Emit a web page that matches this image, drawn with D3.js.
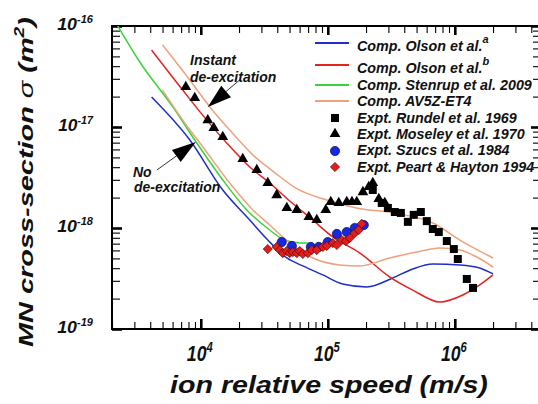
<!DOCTYPE html>
<html>
<head>
<meta charset="utf-8">
<script src="https://cdn.jsdelivr.net/npm/d3@7"></script>
<style>
  html, body { margin: 0; padding: 0; background: #fff; }
  svg { display: block; }
  text { font-family: "Liberation Sans", Arial, sans-serif; font-weight: bold; font-style: italic; fill: #111; }
</style>
</head>
<body>
<svg id="chart" width="538" height="404"></svg>
<script>
// ---- Axis ranges (ion relative speed in m/s, cross-section in m^2) ----
const speedDomain = [2e3, 4.6e6];
const sigmaDomain = [1e-19, 1e-16];
const xMajorExponents = [4, 5, 6];
const yMajorExponents = [-16, -17, -18, -19];

// ---- Computed cross-sections ----
const olsonA_speed = [4.1e3, 8.2e3, 1.49e4, 2.43e4, 3.37e4, 4.76e4, 6.36e4, 9.14e4, 1.31e5, 2.03e5, 3.25e5, 4.67e5, 6.71e5, 1.1e6, 1.57e6, 2.0e6];
const olsonA_sigma = [1.98e-17, 7.43e-18, 2.38e-18, 1.20e-18, 7.60e-19, 5.05e-19, 4.21e-19, 3.43e-19, 2.79e-19, 2.61e-19, 3.20e-19, 3.93e-19, 4.40e-19, 4.31e-19, 4.02e-19, 3.51e-19];

const olsonB_speed = [4.1e3, 7.21e3, 1.115e4, 1.6e4, 2.43e4, 3.49e4, 5.02e4, 7.62e4, 1.095e5, 1.79e5, 3.08e5, 4.67e5, 7.62e5, 1.156e6, 1.57e6, 2.0e6];
const olsonB_sigma = [5.78e-17, 2.32e-17, 1.17e-17, 6.95e-18, 4.02e-18, 2.79e-18, 1.85e-18, 1.20e-18, 8.15e-19, 5.65e-19, 3.27e-19, 2.43e-19, 1.85e-19, 2.17e-19, 2.73e-19, 3.43e-19];

const stenrup_speed = [2.2e3, 3.31e3, 6.02e3, 9.3e3, 1.49e4, 2.3e4, 3.49e4, 4.58e4, 6.02e4, 6.96e4];
const stenrup_sigma = [1.02e-16, 4.40e-17, 1.58e-17, 6.95e-18, 2.99e-18, 1.51e-18, 9.55e-19, 7.60e-19, 7.10e-19, 7.10e-19];

// AV5Z-ET4, no de-excitation
const av5zNo_speed = [5.0e3, 7.21e3, 1.04e4, 1.69e4, 2.57e4, 3.49e4, 5.02e4, 7.62e4, 1.243e5, 1.79e5, 3.08e5, 5.02e5, 7.62e5, 1.095e6, 1.49e6, 2.0e6];
const av5zNo_sigma = [2.32e-17, 1.17e-17, 6.34e-18, 2.79e-18, 1.51e-18, 1.07e-18, 7.10e-19, 5.05e-19, 4.31e-19, 4.21e-19, 5.05e-19, 5.78e-19, 6.34e-19, 6.05e-19, 5.16e-19, 4.11e-19];

// AV5Z-ET4, instant de-excitation
const av5zInst_speed = [5.0e3, 8.19e3, 1.18e4, 1.79e4, 2.63e4, 3.75e4, 5.7e4, 9.8e4, 1.68e5, 3.69e5, 6.71e5, 1.095e6, 2.0e6];
const av5zInst_sigma = [6.48e-17, 2.92e-17, 1.58e-17, 8.60e-18, 5.15e-18, 3.60e-18, 2.45e-18, 1.89e-18, 1.58e-18, 1.38e-18, 1.12e-18, 7.60e-19, 5.05e-19];

// ---- Measurements ----
const rundel_speed = [2.26e5, 2.66e5, 2.97e5, 3.37e5, 3.76e5, 4.27e5, 4.75e5, 5.40e5, 6.02e5, 6.71e5, 7.48e5, 8.65e5, 9.82e5, 1.056e6, 1.243e6, 1.39e6];
const rundel_sigma = [2.38e-18, 1.77e-18, 1.58e-18, 1.44e-18, 1.41e-18, 1.15e-18, 1.35e-18, 1.44e-18, 1.17e-18, 9.77e-19, 9.12e-19, 7.43e-19, 6.19e-19, 4.93e-19, 3.13e-19, 2.55e-19];

const moseley_speed = [7.62e3, 8.97e3, 1.135e4, 1.265e4, 1.49e4, 2.14e4, 2.76e4, 3.37e4, 3.96e4, 4.76e4, 5.70e4, 7.09e4, 8.19e4, 9.64e4, 1.056e5, 1.22e5, 1.41e5, 1.55e5, 1.69e5, 1.89e5, 2.10e5, 2.26e5, 2.52e5, 2.81e5];
const moseley_sigma = [2.49e-17, 1.94e-17, 1.17e-17, 9.77e-18, 7.96e-18, 4.82e-18, 3.75e-18, 2.79e-18, 2.12e-18, 1.58e-18, 1.51e-18, 1.29e-18, 1.20e-18, 1.51e-18, 1.81e-18, 1.77e-18, 1.81e-18, 1.81e-18, 1.81e-18, 2.27e-18, 2.55e-18, 2.79e-18, 1.94e-18, 1.77e-18];

const szucs_speed = [4.34e4, 5.21e4, 7.35e4, 8.49e4, 1.0e5, 1.178e5, 1.41e5, 1.63e5, 1.92e5];
const szucs_sigma = [7.26e-19, 6.64e-19, 6.49e-19, 6.49e-19, 7.26e-19, 8.73e-19, 9.12e-19, 1.00e-18, 1.07e-18];

const peart_speed = [3.37e4, 3.96e4, 4.19e4, 4.42e4, 4.76e4, 5.02e4, 5.30e4, 5.70e4, 6.02e4, 6.36e4, 6.96e4, 7.48e4, 8.19e4, 9.14e4, 9.82e4, 1.095e5, 1.178e5, 1.29e5, 1.39e5, 1.49e5, 1.63e5, 1.75e5, 1.85e5];
const peart_sigma = [6.19e-19, 6.49e-19, 6.05e-19, 5.65e-19, 5.92e-19, 5.65e-19, 5.78e-19, 5.65e-19, 5.92e-19, 5.53e-19, 5.65e-19, 6.05e-19, 6.05e-19, 6.49e-19, 6.64e-19, 7.10e-19, 6.79e-19, 7.60e-19, 7.43e-19, 7.96e-19, 8.91e-19, 9.55e-19, 1.10e-18];

// ---- Legend ----
const legendLabels = ["Comp. Olson et al.", "Comp. Olson et al.", "Comp. Stenrup et al. 2009", "Comp. AV5Z-ET4",
  "Expt. Rundel et al. 1969", "Expt. Moseley et al. 1970", "Expt. Szucs et al. 1984", "Expt. Peart & Hayton 1994"];
const legendSup = ["a", "b", "", "", "", "", "", ""];

const zip = (a, b) => a.map((v, i) => [v, b[i]]);

const colors = { blue: "#1f2fc8", red: "#e2231f", green: "#3ad43a", orange: "#eda27c" };

const svg = d3.select("#chart");
const plot = { left: 112, top: 26, right: 539, bottom: 329 };

const x = d3.scaleLog().domain(speedDomain).range([plot.left, plot.right]);
const y = d3.scaleLog().domain(sigmaDomain).range([plot.bottom, plot.top]);

function logTicks(lo, hi) {
  const out = [];
  for (let e = Math.floor(Math.log10(lo)); e <= Math.ceil(Math.log10(hi)); e++) {
    for (let m = 1; m < 10; m++) {
      const v = m * Math.pow(10, e);
      if (v >= lo * 0.999 && v <= hi * 1.001) out.push({ v, major: m === 1 });
    }
  }
  return out;
}
const xt = logTicks(...speedDomain);
const yt = logTicks(...sigmaDomain);
const xMinor = xt.filter(d => !d.major).map(d => d.v), xMajor = xt.filter(d => d.major).map(d => d.v);
const yMinor = yt.filter(d => !d.major).map(d => d.v), yMajor = yt.filter(d => d.major).map(d => d.v);

// Inward ticks on all four sides
function drawAxis(axisFn, pos, vals, size, width) {
  const g = svg.append("g").attr("transform", pos)
    .call(axisFn.tickValues(vals).tickSize(-size).tickFormat(""));
  g.select(".domain").remove();
  g.selectAll(".tick line").attr("stroke", "#000").attr("stroke-width", width);
}
drawAxis(d3.axisBottom(x), `translate(0,${plot.bottom})`, xMinor, 7, 1.1);
drawAxis(d3.axisBottom(x), `translate(0,${plot.bottom})`, xMajor, 10, 2.6);
drawAxis(d3.axisTop(x), `translate(0,${plot.top})`, xMinor, 7, 1.1);
drawAxis(d3.axisTop(x), `translate(0,${plot.top})`, xMajor, 9, 2.6);
drawAxis(d3.axisLeft(y), `translate(${plot.left},0)`, yMinor, 8, 1.1);
drawAxis(d3.axisLeft(y), `translate(${plot.left},0)`, yMajor, 10, 2.6);
drawAxis(d3.axisRight(y), `translate(${plot.right},0)`, yMinor, 6, 1.1);
drawAxis(d3.axisRight(y), `translate(${plot.right},0)`, yMajor, 8, 2.6);

svg.append("rect")
  .attr("x", plot.left).attr("y", plot.top)
  .attr("width", plot.right - plot.left).attr("height", plot.bottom - plot.top)
  .attr("fill", "none").attr("stroke", "#000").attr("stroke-width", 2);

// Horizontal stretch about an anchor so a label spans a given width
function fitWidth(sel, target, ax, ay) {
  const w = sel.node().getBBox().width;
  const k = target / w;
  sel.attr("transform", `translate(${ax},${ay}) scale(${k},1) translate(${-ax},${-ay})`);
}

// Tick labels
yMajorExponents.forEach(e => {
  const yy = y(Math.pow(10, e)) + 4.5;
  const t = svg.append("text").attr("x", 93).attr("y", yy).attr("text-anchor", "end");
  t.append("tspan").attr("font-size", 17).text("10");
  t.append("tspan").attr("font-size", 10.5).attr("dy", -7).text(String(e));
  fitWidth(t, 36, 93, yy);
});
xMajorExponents.forEach(e => {
  const xx = x(Math.pow(10, e)) - 1;
  const t = svg.append("text").attr("x", xx).attr("y", 361).attr("text-anchor", "middle");
  t.append("tspan").attr("font-size", 22).text("10");
  t.append("tspan").attr("font-size", 14).attr("dy", -9).text(String(e));
  fitWidth(t, 26, xx, 361);
});

// Axis titles
const xt1 = svg.append("text").attr("x", 329).attr("y", 393).attr("text-anchor", "middle")
  .attr("font-size", 23).text("ion relative speed (m/s)");
fitWidth(xt1, 318, 329, 393);

const yg = svg.append("g").attr("transform", "translate(33,182) rotate(-90)");
const yt1 = yg.append("text").attr("x", 0).attr("y", 0).attr("text-anchor", "middle").attr("font-size", 21);
yt1.append("tspan").text("MN cross-section ");
yt1.append("tspan").text("σ").attr("font-weight", "normal");
yt1.append("tspan").text(" (m");
yt1.append("tspan").attr("font-size", 14).attr("dy", -9).text("2");
yt1.append("tspan").attr("dy", 9).text(")");
fitWidth(yt1, 330, 0, 0);

// Curves
svg.append("clipPath").attr("id", "plotClip").append("rect")
  .attr("x", plot.left).attr("y", plot.top)
  .attr("width", plot.right - plot.left).attr("height", plot.bottom - plot.top);
const curves = svg.append("g").attr("clip-path", "url(#plotClip)");
const line = d3.line().x(d => x(d[0])).y(d => y(d[1])).curve(d3.curveMonotoneX);
const series = [
  { pts: zip(olsonA_speed, olsonA_sigma), c: colors.blue },
  { pts: zip(olsonB_speed, olsonB_sigma), c: colors.red },
  { pts: zip(stenrup_speed, stenrup_sigma), c: colors.green },
  { pts: zip(av5zNo_speed, av5zNo_sigma), c: colors.orange },
  { pts: zip(av5zInst_speed, av5zInst_sigma), c: colors.orange }
];
series.forEach(s => curves.append("path").attr("d", line(s.pts))
  .attr("fill", "none").attr("stroke", s.c).attr("stroke-width", 1.5));

// Marker shapes
const sq = d3.symbol(d3.symbolSquare, 64);
const tri = d3.symbol(d3.symbolTriangle, 50);
function diamondPath(r) { return `M0,${-r}L${r},0L0,${r}L${-r},0Z`; }

function drawSquares(g, pts) {
  g.selectAll(null).data(pts).join("path")
    .attr("transform", d => `translate(${x(d[0])},${y(d[1])})`).attr("d", sq).attr("fill", "#000");
}
function drawTriangles(g, pts) {
  g.selectAll(null).data(pts).join("path")
    .attr("transform", d => `translate(${x(d[0])},${y(d[1])})`).attr("d", tri).attr("fill", "#000");
}
function drawCircles(g, pts) {
  g.selectAll(null).data(pts).join("circle")
    .attr("cx", d => x(d[0])).attr("cy", d => y(d[1])).attr("r", 4.6)
    .attr("fill", "#1428e6").attr("stroke", "#0a0a40").attr("stroke-width", 0.7);
}
function drawDiamonds(g, pts) {
  g.selectAll(null).data(pts).join("path")
    .attr("transform", d => `translate(${x(d[0])},${y(d[1])})`).attr("d", diamondPath(4.6))
    .attr("fill", "#e41c1c").attr("stroke", "#4a0808").attr("stroke-width", 0.7);
}
const marks = svg.append("g");
drawSquares(marks, zip(rundel_speed, rundel_sigma));
drawTriangles(marks, zip(moseley_speed, moseley_sigma));
drawCircles(marks, zip(szucs_speed, szucs_sigma));
drawDiamonds(marks, zip(peart_speed, peart_sigma));

// Annotations with arrows (anchored in data coordinates)
function arrow(from, to) {
  const x0 = x(from[0]), y0 = y(from[1]), x1 = x(to[0]), y1 = y(to[1]);
  const dx = x1 - x0, dy = y1 - y0, L = Math.hypot(dx, dy), ux = dx / L, uy = dy / L;
  const hl = 24, hw = 7.5;
  const bx = x1 - ux * hl, by = y1 - uy * hl;
  svg.append("line").attr("x1", x0).attr("y1", y0).attr("x2", bx).attr("y2", by)
    .attr("stroke", "#333").attr("stroke-width", 1);
  svg.append("path")
    .attr("d", `M${x1},${y1}L${bx - uy * hw},${by + ux * hw}L${bx + uy * hw},${by - ux * hw}Z`)
    .attr("fill", "#000");
}
arrow([2.07e4, 2.99e-17], [1.135e4, 1.58e-17]);
arrow([4.51e3, 3.75e-18], [9.14e3, 7.1e-18]);

svg.append("text").attr("x", 190).attr("y", 65).attr("font-size", 14).text("Instant");
svg.append("text").attr("x", 190).attr("y", 82).attr("font-size", 14).text("de-excitation");
svg.append("text").attr("x", 133).attr("y", 177).attr("font-size", 14).text("No");
svg.append("text").attr("x", 134).attr("y", 192).attr("font-size", 14).text("de-excitation");

// Legend
const legSymY = [43, 65, 85, 101, 118, 134, 151, 167];
const legTextY = [51, 73, 90, 106, 123, 139, 155, 172];
const legColors = [colors.blue, colors.red, colors.green, colors.orange];
const leg = svg.append("g");
legendLabels.forEach((lab, i) => {
  const t = leg.append("text").attr("x", 357).attr("y", legTextY[i]).attr("font-size", 14.3).text(lab);
  if (legendSup[i]) t.append("tspan").attr("font-size", 11).attr("dy", -8).text(legendSup[i]);
});
legColors.forEach((c, i) => leg.append("line")
  .attr("x1", 315).attr("x2", 349).attr("y1", legSymY[i]).attr("y2", legSymY[i])
  .attr("stroke", c).attr("stroke-width", 1.8));
leg.append("path").attr("transform", `translate(335,${legSymY[4]})`).attr("d", sq).attr("fill", "#000");
leg.append("path").attr("transform", `translate(335,${legSymY[5]})`).attr("d", tri).attr("fill", "#000");
leg.append("circle").attr("cx", 335).attr("cy", legSymY[6]).attr("r", 4.6)
  .attr("fill", "#1428e6").attr("stroke", "#0a0a40").attr("stroke-width", 0.7);
leg.append("path").attr("transform", `translate(335,${legSymY[7]})`).attr("d", diamondPath(4.6))
  .attr("fill", "#e41c1c").attr("stroke", "#4a0808").attr("stroke-width", 0.7);
</script>
</body>
</html>
